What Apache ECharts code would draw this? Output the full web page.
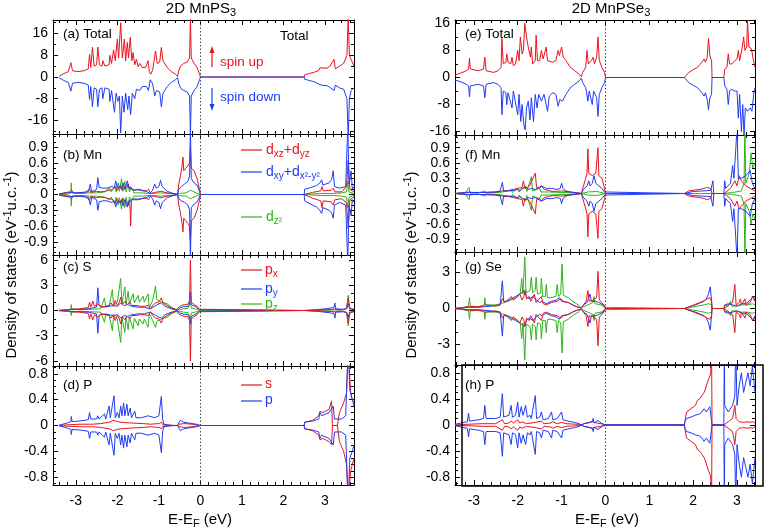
<!DOCTYPE html>
<html><head><meta charset="utf-8">
<script src="https://cdn.jsdelivr.net/npm/echarts@6/dist/echarts.min.js"></script>
<style>html,body{margin:0;padding:0;background:#fff}#c{width:767px;height:530px}</style>
</head><body><div id="c"></div>
<script>
// ---------- tick labels ----------
const xTicks = [-3,-2,-1,0,1,2,3];
const yTicksTot = [-16,-8,0,8,16];
const yTicksMn = [-0.9,-0.6,-0.3,0,0.3,0.6,0.9];
const yTicksS = [-6,-3,0,3,6];
const yTicksSe = [-3,0,3];
const yTicksP = [-0.8,-0.4,0,0.4,0.8];

// ---------- (a) MnPS3 total ----------
const totUpL = [[-3.40,0.3],[-3.30,1.2],[-3.18,2.0],[-3.12,5.3],[-3.08,2.3],[-2.95,2.0],[-2.80,2.3],[-2.70,3.0],[-2.67,8.4],[-2.64,3.5],[-2.60,11.0],[-2.56,4.0],[-2.50,4.5],[-2.47,11.0],[-2.43,4.5],[-2.37,4.0],[-2.35,6.0],[-2.30,4.0],[-2.20,4.5],[-2.18,8.0],[-2.14,5],[-2.09,10],[-2.05,6],[-2.00,14],[-1.97,7],[-1.92,20],[-1.88,7],[-1.83,14],[-1.80,6],[-1.76,12.7],[-1.73,7],[-1.69,14.6],[-1.65,6],[-1.62,9],[-1.58,4.5],[-1.54,6.5],[-1.50,3.8],[-1.46,5],[-1.40,3.5],[-1.32,3.5],[-1.26,6],[-1.23,2],[-1.20,1.0],[-1.15,2.5],[-1.08,9.6],[-1.04,5],[-0.98,5.5],[-0.94,10.9],[-0.90,6],[-0.80,3.5],[-0.70,2.0],[-0.60,1.0],[-0.55,0.2],[-0.52,2.5],[-0.47,4.2],[-0.40,5.0],[-0.32,5.5],[-0.26,7.0],[-0.24,22],[-0.22,7],[-0.15,5.0],[-0.08,3.5],[-0.02,1.0],[0,0],[2.50,0],[2.51,0.8],[2.60,1.2],[2.75,1.8],[2.85,2.4],[2.88,3.4],[2.92,2.8],[3.05,3.2],[3.12,4.0],[3.16,4.4],[3.22,6.5],[3.25,3],[3.35,4],[3.45,5],[3.53,8],[3.56,22],[3.59,8],[3.63,6.5],[3.66,7],[3.70,4]];
const totDnL = [[-3.40,-0.3],[-3.30,-1.2],[-3.18,-2.0],[-3.12,-5.2],[-3.08,-2.3],[-2.95,-2.0],[-2.80,-2.3],[-2.70,-3.0],[-2.67,-8.3],[-2.64,-3.5],[-2.60,-11],[-2.56,-4],[-2.50,-4.5],[-2.47,-11],[-2.43,-4.5],[-2.37,-4],[-2.35,-8],[-2.30,-4],[-2.20,-4.5],[-2.18,-9],[-2.14,-5],[-2.07,-13],[-2.03,-6],[-1.99,-9],[-1.95,-7],[-1.92,-20.6],[-1.88,-7],[-1.84,-13],[-1.80,-6],[-1.75,-12],[-1.72,-7],[-1.68,-13.8],[-1.64,-6],[-1.58,-8],[-1.54,-4.5],[-1.46,-5],[-1.40,-3.5],[-1.30,-3.5],[-1.25,-5],[-1.21,-1],[-1.15,-2.5],[-1.10,-7],[-1.06,-5],[-0.98,-5.5],[-0.94,-11],[-0.90,-6],[-0.80,-3.5],[-0.70,-2],[-0.60,-1],[-0.55,-0.2],[-0.52,-2.5],[-0.47,-4.2],[-0.40,-5],[-0.32,-5.5],[-0.26,-7],[-0.24,-22],[-0.22,-7],[-0.15,-5],[-0.08,-3.5],[-0.02,-1],[0,0],[2.50,0],[2.51,-0.8],[2.60,-1.2],[2.75,-1.8],[2.85,-2.6],[2.92,-3.0],[3.05,-3.2],[3.12,-3.8],[3.16,-4.2],[3.22,-5.0],[3.25,-3],[3.35,-4],[3.45,-4.5],[3.53,-8],[3.56,-22],[3.59,-8],[3.63,-5],[3.70,-4]];

// ---------- (b) MnPS3 Mn ----------
const mnRedUpL = [[-3.40,0.01],[-3.30,0.03],[-3.15,0.05],[-3.10,0.08],[-3.05,0.03],[-2.80,0.03],[-2.67,0.10],[-2.64,0.04],[-2.50,0.06],[-2.40,0.05],[-2.30,0.06],[-2.20,0.08],[-2.10,0.10],[-2.05,0.15],[-2.00,0.08],[-1.92,0.18],[-1.88,0.08],[-1.80,0.12],[-1.74,0.20],[-1.70,0.10],[-1.68,0.15],[-1.62,0.08],[-1.50,0.10],[-1.40,0.08],[-1.30,0.07],[-1.25,0.10],[-1.20,0.02],[-1.10,0.04],[-0.94,0.06],[-0.80,0.03],[-0.60,0.01],[-0.55,0],[-0.52,0.20],[-0.48,0.35],[-0.44,0.55],[-0.42,0.71],[-0.40,0.45],[-0.35,0.5],[-0.30,0.55],[-0.26,0.6],[-0.24,0.9],[-0.22,0.5],[-0.15,0.45],[-0.08,0.3],[-0.02,0.1],[0,0],[2.50,0],[2.51,0.02],[2.70,0.04],[2.90,0.07],[2.93,0.15],[2.96,0.07],[3.15,0.08],[3.20,0.12],[3.24,0.05],[3.40,0.05],[3.52,0.15],[3.56,0.65],[3.60,0.1],[3.70,0.05]];
const mnRedDnL = [[-3.40,-0.01],[-3.30,-0.03],[-3.15,-0.05],[-3.10,-0.08],[-3.05,-0.03],[-2.80,-0.03],[-2.67,-0.10],[-2.64,-0.04],[-2.50,-0.06],[-2.40,-0.05],[-2.30,-0.06],[-2.20,-0.08],[-2.10,-0.10],[-2.05,-0.15],[-2.00,-0.08],[-1.92,-0.18],[-1.88,-0.08],[-1.80,-0.12],[-1.74,-0.20],[-1.70,-0.10],[-1.68,-0.60],[-1.66,-0.10],[-1.62,-0.08],[-1.50,-0.10],[-1.40,-0.08],[-1.30,-0.07],[-1.25,-0.10],[-1.20,-0.02],[-1.10,-0.04],[-0.94,-0.06],[-0.80,-0.03],[-0.60,-0.01],[-0.55,0],[-0.52,-0.20],[-0.48,-0.35],[-0.44,-0.55],[-0.42,-0.71],[-0.40,-0.45],[-0.35,-0.5],[-0.30,-0.55],[-0.26,-0.6],[-0.24,-0.9],[-0.22,-0.5],[-0.15,-0.45],[-0.08,-0.3],[-0.02,-0.1],[0,0],[2.50,0],[2.51,-0.03],[2.70,-0.07],[2.90,-0.12],[2.93,-0.25],[2.96,-0.12],[3.15,-0.14],[3.20,-0.2],[3.24,-0.1],[3.40,-0.08],[3.52,-0.15],[3.56,-0.65],[3.60,-0.1],[3.70,-0.05]];
const mnBluUpL = [[-3.40,0.01],[-3.30,0.02],[-3.12,0.04],[-3.00,0.03],[-2.70,0.05],[-2.65,0.20],[-2.62,0.05],[-2.50,0.10],[-2.47,0.32],[-2.44,0.14],[-2.35,0.12],[-2.25,0.12],[-2.15,0.15],[-2.07,0.13],[-2.04,0.26],[-2.00,0.12],[-1.95,0.16],[-1.90,0.10],[-1.86,0.22],[-1.82,0.10],[-1.76,0.26],[-1.72,0.12],[-1.65,0.10],[-1.58,0.08],[-1.50,0.09],[-1.40,0.07],[-1.30,0.06],[-1.22,0.02],[-1.15,0.08],[-1.10,0.20],[-1.06,0.12],[-1.00,0.15],[-0.96,0.27],[-0.92,0.15],[-0.80,0.06],[-0.65,0.02],[-0.55,0],[-0.52,0.10],[-0.46,0.15],[-0.38,0.20],[-0.30,0.25],[-0.26,0.35],[-0.24,1.3],[-0.22,0.3],[-0.15,0.22],[-0.08,0.18],[-0.02,0.06],[0,0],[2.50,0],[2.51,0.10],[2.65,0.13],[2.80,0.17],[2.88,0.22],[2.92,0.28],[2.95,0.18],[3.10,0.22],[3.16,0.28],[3.20,0.45],[3.23,0.15],[3.35,0.12],[3.50,0.15],[3.55,1.3],[3.58,0.2],[3.63,0.45],[3.66,0.1],[3.70,0.15]];
const mnBluDnL = [[-3.40,-0.01],[-3.30,-0.02],[-3.12,-0.04],[-3.00,-0.03],[-2.70,-0.05],[-2.65,-0.20],[-2.62,-0.05],[-2.50,-0.10],[-2.47,-0.30],[-2.44,-0.14],[-2.35,-0.12],[-2.25,-0.12],[-2.15,-0.15],[-2.07,-0.13],[-2.04,-0.24],[-2.00,-0.12],[-1.95,-0.16],[-1.90,-0.10],[-1.86,-0.22],[-1.82,-0.10],[-1.76,-0.24],[-1.72,-0.12],[-1.65,-0.10],[-1.58,-0.08],[-1.50,-0.09],[-1.40,-0.07],[-1.30,-0.06],[-1.22,-0.02],[-1.15,-0.08],[-1.10,-0.20],[-1.06,-0.12],[-1.00,-0.15],[-0.96,-0.27],[-0.92,-0.15],[-0.80,-0.06],[-0.65,-0.02],[-0.55,0],[-0.52,-0.08],[-0.46,-0.12],[-0.38,-0.15],[-0.30,-0.2],[-0.26,-0.3],[-0.24,-1.3],[-0.22,-0.25],[-0.15,-0.18],[-0.08,-0.14],[-0.02,-0.05],[0,0],[2.50,0],[2.51,-0.12],[2.65,-0.18],[2.80,-0.24],[2.88,-0.30],[2.92,-0.36],[2.95,-0.25],[3.10,-0.3],[3.16,-0.35],[3.20,-0.45],[3.23,-0.2],[3.35,-0.15],[3.50,-0.2],[3.55,-1.3],[3.58,-0.2],[3.63,-0.4],[3.66,-0.1],[3.70,-0.15]];
const mnGrnUpL = [[-3.40,0],[-3.20,0.01],[-3.12,0.03],[-3.11,0.22],[-3.10,0.03],[-2.90,0.02],[-2.65,0.03],[-2.50,0.03],[-2.30,0.05],[-2.20,0.12],[-2.15,0.05],[-2.06,0.15],[-2.03,0.05],[-1.98,0.22],[-1.95,0.06],[-1.90,0.30],[-1.87,0.06],[-1.82,0.25],[-1.79,0.05],[-1.74,0.20],[-1.71,0.05],[-1.65,0.12],[-1.60,0.03],[-1.40,0.03],[-1.20,0.02],[-0.94,0.03],[-0.60,0.01],[-0.55,0],[-0.50,0.02],[-0.35,0.03],[-0.24,0.08],[-0.10,0.03],[0,0],[2.50,0],[2.51,0.01],[2.90,0.02],[3.20,0.02],[3.40,0.03],[3.52,0.05],[3.55,0.25],[3.58,0.05],[3.70,0.02]];
const mnGrnDnL = [[-3.40,0],[-3.20,-0.01],[-3.12,-0.03],[-3.11,-0.22],[-3.10,-0.03],[-2.90,-0.02],[-2.65,-0.03],[-2.50,-0.03],[-2.30,-0.05],[-2.20,-0.1],[-2.15,-0.05],[-2.06,-0.18],[-2.03,-0.05],[-1.98,-0.2],[-1.95,-0.06],[-1.90,-0.28],[-1.87,-0.06],[-1.82,-0.25],[-1.79,-0.05],[-1.74,-0.22],[-1.71,-0.05],[-1.65,-0.1],[-1.60,-0.03],[-1.40,-0.03],[-1.20,-0.02],[-0.94,-0.03],[-0.60,-0.01],[-0.55,0],[-0.50,-0.02],[-0.35,-0.03],[-0.24,-0.08],[-0.10,-0.03],[0,0],[2.50,0],[2.51,-0.01],[2.90,-0.02],[3.20,-0.02],[3.40,-0.03],[3.52,-0.05],[3.55,-0.25],[3.58,-0.05],[3.70,-0.02]];

// ---------- (c) MnPS3 S ----------
const sRedUpL = [[-3.40,0.02],[-3.20,0.1],[-3.12,0.15],[-3.11,0.3],[-3.10,0.15],[-2.90,0.2],[-2.70,0.35],[-2.67,1.0],[-2.64,0.4],[-2.59,1.1],[-2.55,0.5],[-2.47,0.8],[-2.40,0.4],[-2.30,0.5],[-2.20,0.6],[-2.15,0.9],[-2.10,0.5],[-2.05,1.2],[-2.00,0.6],[-1.95,1.0],[-1.92,1.6],[-1.88,0.7],[-1.82,1.1],[-1.76,0.7],[-1.70,1.0],[-1.65,0.6],[-1.55,0.6],[-1.45,0.5],[-1.35,0.5],[-1.25,0.6],[-1.20,0.15],[-1.15,0.6],[-1.08,0.9],[-1.00,1.0],[-0.94,1.5],[-0.90,0.9],[-0.80,0.6],[-0.70,0.3],[-0.58,0.1],[-0.55,0],[-0.52,0.4],[-0.46,0.6],[-0.38,0.7],[-0.30,0.75],[-0.26,1.2],[-0.24,6.0],[-0.22,1.0],[-0.15,0.7],[-0.08,0.5],[-0.02,0.15],[0,0],[2.50,0],[2.51,0.02],[2.80,0.05],[3.00,0.08],[3.15,0.12],[3.24,0.2],[3.30,0.08],[3.45,0.1],[3.52,0.3],[3.56,1.5],[3.60,0.3],[3.70,0.1]];
const sRedDnL = [[-3.40,-0.02],[-3.20,-0.1],[-3.12,-0.15],[-3.11,-0.3],[-3.10,-0.15],[-2.90,-0.2],[-2.70,-0.35],[-2.67,-1.0],[-2.64,-0.4],[-2.59,-1.1],[-2.55,-0.5],[-2.47,-0.8],[-2.40,-0.4],[-2.30,-0.5],[-2.20,-0.6],[-2.15,-0.9],[-2.10,-0.5],[-2.05,-1.2],[-2.00,-0.6],[-1.95,-1.0],[-1.92,-1.6],[-1.88,-0.7],[-1.82,-1.1],[-1.76,-0.7],[-1.70,-1.0],[-1.65,-0.6],[-1.55,-0.6],[-1.45,-0.5],[-1.35,-0.5],[-1.25,-0.6],[-1.20,-0.15],[-1.15,-0.6],[-1.08,-0.9],[-1.00,-1.0],[-0.94,-1.5],[-0.90,-0.9],[-0.80,-0.6],[-0.70,-0.3],[-0.58,-0.1],[-0.55,0],[-0.52,-0.4],[-0.46,-0.6],[-0.38,-0.7],[-0.30,-0.75],[-0.26,-1.2],[-0.24,-6.0],[-0.22,-1.0],[-0.15,-0.7],[-0.08,-0.5],[-0.02,-0.15],[0,0],[2.50,0],[2.51,-0.02],[2.80,-0.05],[3.00,-0.08],[3.15,-0.12],[3.24,-0.2],[3.30,-0.08],[3.45,-0.1],[3.52,-0.3],[3.56,-1.5],[3.60,-0.3],[3.70,-0.1]];
const sBluUpL = [[-3.40,0.01],[-3.20,0.06],[-3.12,0.1],[-3.00,0.12],[-2.70,0.2],[-2.60,0.3],[-2.50,0.4],[-2.47,2.7],[-2.44,0.6],[-2.35,0.4],[-2.20,0.5],[-2.10,0.6],[-2.00,0.5],[-1.92,0.9],[-1.85,0.6],[-1.75,0.7],[-1.65,0.5],[-1.50,0.4],[-1.35,0.4],[-1.22,0.2],[-1.10,0.5],[-1.00,0.8],[-0.94,0.9],[-0.85,0.5],[-0.70,0.2],[-0.55,0],[-0.50,0.3],[-0.40,0.45],[-0.30,0.5],[-0.26,0.8],[-0.24,2.2],[-0.22,0.7],[-0.12,0.45],[-0.02,0.1],[0,0],[2.50,0],[2.51,0.02],[2.80,0.1],[3.00,0.2],[3.15,0.3],[3.22,0.4],[3.24,0.9],[3.26,0.2],[3.45,0.15],[3.53,0.3],[3.56,0.8],[3.60,0.2],[3.70,0.15]];
const sBluDnL = [[-3.40,-0.01],[-3.20,-0.06],[-3.12,-0.1],[-3.00,-0.12],[-2.70,-0.2],[-2.60,-0.3],[-2.50,-0.4],[-2.47,-2.7],[-2.44,-0.6],[-2.35,-0.4],[-2.20,-0.5],[-2.10,-0.6],[-2.00,-0.5],[-1.92,-0.9],[-1.85,-0.6],[-1.75,-0.7],[-1.65,-0.5],[-1.50,-0.4],[-1.35,-0.4],[-1.22,-0.2],[-1.10,-0.5],[-1.00,-0.8],[-0.94,-0.9],[-0.85,-0.5],[-0.70,-0.2],[-0.55,0],[-0.50,-0.3],[-0.40,-0.45],[-0.30,-0.5],[-0.26,-0.8],[-0.24,-1.6],[-0.22,-0.7],[-0.12,-0.45],[-0.02,-0.1],[0,0],[2.50,0],[2.51,-0.02],[2.80,-0.1],[3.00,-0.2],[3.15,-0.3],[3.22,-0.4],[3.24,-0.9],[3.26,-0.2],[3.45,-0.15],[3.53,-0.3],[3.56,-0.8],[3.60,-0.2],[3.70,-0.15]];
const sGrnUpL = [[-3.40,0.01],[-3.20,0.05],[-3.12,0.2],[-3.11,0.7],[-3.10,0.2],[-2.90,0.1],[-2.60,0.15],[-2.40,0.2],[-2.31,1.5],[-2.28,0.4],[-2.20,0.5],[-2.12,2.5],[-2.09,0.6],[-2.00,1.0],[-1.92,3.8],[-1.89,0.8],[-1.82,2.8],[-1.79,0.8],[-1.74,2.3],[-1.71,0.8],[-1.62,2.0],[-1.59,0.9],[-1.50,1.8],[-1.47,1.0],[-1.38,1.7],[-1.35,1.0],[-1.26,2.0],[-1.23,0.3],[-1.15,1.2],[-1.08,2.9],[-1.05,1.3],[-0.94,1.0],[-0.80,0.8],[-0.70,0.4],[-0.58,0.1],[-0.55,0],[-0.50,0.1],[-0.40,0.2],[-0.30,0.25],[-0.26,0.4],[-0.24,1.0],[-0.22,0.3],[-0.10,0.15],[0,0],[2.50,0],[2.51,0.01],[3.00,0.05],[3.24,0.1],[3.40,0.1],[3.53,0.2],[3.56,1.8],[3.59,0.2],[3.70,0.1]];
const sGrnDnL = [[-3.40,-0.01],[-3.20,-0.05],[-3.12,-0.2],[-3.11,-0.6],[-3.10,-0.2],[-2.90,-0.1],[-2.60,-0.15],[-2.40,-0.2],[-2.31,-1.4],[-2.28,-0.4],[-2.20,-0.5],[-2.12,-2.4],[-2.09,-0.6],[-2.00,-1.0],[-1.92,-3.8],[-1.89,-0.8],[-1.82,-2.6],[-1.79,-0.8],[-1.74,-2.3],[-1.71,-0.8],[-1.62,-2.2],[-1.59,-0.9],[-1.50,-1.8],[-1.47,-1.0],[-1.38,-1.6],[-1.35,-1.0],[-1.26,-2.0],[-1.23,-0.3],[-1.15,-1.2],[-1.08,-2.0],[-1.05,-1.3],[-0.94,-1.0],[-0.80,-0.8],[-0.70,-0.4],[-0.58,-0.1],[-0.55,0],[-0.50,-0.1],[-0.40,-0.2],[-0.30,-0.25],[-0.26,-0.4],[-0.24,-1.0],[-0.22,-0.3],[-0.10,-0.15],[0,0],[2.50,0],[2.51,-0.01],[3.00,-0.05],[3.24,-0.1],[3.40,-0.1],[3.53,-0.2],[3.56,-1.8],[3.59,-0.2],[3.70,-0.1]];

// ---------- (d) MnPS3 P ----------
const pRedUpL = [[-3.40,0],[-3.20,0.01],[-2.90,0.02],[-2.60,0.02],[-2.40,0.03],[-2.20,0.05],[-2.10,0.08],[-2.00,0.06],[-1.90,0.05],[-1.70,0.04],[-1.40,0.03],[-1.20,0.02],[-1.00,0.03],[-0.94,0.05],[-0.90,0.01],[-0.55,0],[-0.50,0.02],[-0.40,0.03],[-0.20,0.02],[0,0],[2.50,0],[2.51,0.05],[2.70,0.08],[2.85,0.15],[2.88,0.22],[2.95,0.2],[3.10,0.25],[3.16,0.38],[3.18,0.0],[3.30,0.0],[3.35,0.2],[3.45,0.35],[3.52,0.5],[3.56,1.2],[3.62,0.5],[3.70,0.3]];
const pRedDnL = [[-3.40,0],[-3.20,-0.01],[-2.90,-0.02],[-2.60,-0.02],[-2.40,-0.03],[-2.20,-0.05],[-2.10,-0.08],[-2.00,-0.06],[-1.90,-0.05],[-1.70,-0.04],[-1.40,-0.03],[-1.20,-0.02],[-1.00,-0.03],[-0.94,-0.05],[-0.90,-0.01],[-0.55,0],[-0.50,-0.02],[-0.40,-0.03],[-0.20,-0.02],[0,0],[2.50,0],[2.51,-0.05],[2.70,-0.08],[2.85,-0.15],[2.88,-0.22],[2.95,-0.2],[3.10,-0.25],[3.16,-0.3],[3.18,0],[3.30,0],[3.35,-0.25],[3.45,-0.4],[3.52,-0.6],[3.56,-1.2],[3.62,-0.7],[3.70,-0.5]];
const pBluUpL = [[-3.40,0.005],[-3.20,0.04],[-3.12,0.06],[-3.11,0.14],[-3.09,0.06],[-2.90,0.07],[-2.70,0.09],[-2.67,0.2],[-2.64,0.1],[-2.50,0.1],[-2.47,0.15],[-2.44,0.1],[-2.31,0.18],[-2.28,0.1],[-2.20,0.3],[-2.17,0.12],[-2.08,0.46],[-2.05,0.12],[-2.00,0.2],[-1.96,0.12],[-1.92,0.3],[-1.89,0.15],[-1.85,0.35],[-1.82,0.15],[-1.77,0.33],[-1.74,0.15],[-1.69,0.27],[-1.66,0.12],[-1.58,0.22],[-1.55,0.12],[-1.42,0.12],[-1.26,0.15],[-1.10,0.12],[-1.00,0.15],[-0.94,0.45],[-0.91,0.1],[-0.88,0.02],[-0.70,0],[-0.55,0],[-0.52,0.04],[-0.48,0.08],[-0.40,0.05],[-0.30,0.04],[-0.10,0.02],[0,0],[2.50,0],[2.51,0.05],[2.70,0.07],[2.85,0.1],[2.88,0.2],[2.92,0.15],[3.10,0.2],[3.20,0.3],[3.23,0.1],[3.40,0.1],[3.50,0.15],[3.56,1.2],[3.60,0.55],[3.66,0.4],[3.70,0.35]];
const pBluDnL = [[-3.40,-0.005],[-3.20,-0.04],[-3.12,-0.06],[-3.11,-0.14],[-3.09,-0.06],[-2.90,-0.07],[-2.70,-0.09],[-2.67,-0.2],[-2.64,-0.1],[-2.50,-0.1],[-2.47,-0.15],[-2.44,-0.1],[-2.31,-0.18],[-2.28,-0.1],[-2.20,-0.3],[-2.17,-0.12],[-2.08,-0.46],[-2.05,-0.12],[-2.00,-0.2],[-1.96,-0.12],[-1.92,-0.3],[-1.89,-0.15],[-1.85,-0.35],[-1.82,-0.15],[-1.77,-0.33],[-1.74,-0.15],[-1.69,-0.27],[-1.66,-0.12],[-1.58,-0.22],[-1.55,-0.12],[-1.42,-0.12],[-1.26,-0.15],[-1.10,-0.12],[-1.00,-0.15],[-0.94,-0.42],[-0.91,-0.1],[-0.88,-0.02],[-0.70,0],[-0.55,0],[-0.52,-0.04],[-0.48,-0.08],[-0.40,-0.05],[-0.30,-0.04],[-0.10,-0.02],[0,0],[2.50,0],[2.51,-0.05],[2.70,-0.07],[2.85,-0.1],[2.88,-0.2],[2.92,-0.15],[3.10,-0.2],[3.20,-0.3],[3.23,-0.1],[3.40,-0.1],[3.50,-0.15],[3.56,-1.2],[3.60,-0.5],[3.66,-0.4],[3.70,-0.3]];

// ---------- (e) MnPSe3 total ----------
const totUpR = [[-3.43,0.8],[-3.36,1.0],[-3.20,1.8],[-3.12,2.5],[-3.10,5.7],[-3.08,2.5],[-2.90,2],[-2.78,2.5],[-2.75,6.0],[-2.72,2],[-2.55,1.5],[-2.45,2],[-2.38,3],[-2.36,11.5],[-2.33,4],[-2.27,4.5],[-2.25,7],[-2.22,4.5],[-2.16,4],[-2.13,6],[-2.10,3.5],[-2.05,4],[-2.00,8],[-1.97,5],[-1.94,12],[-1.90,7],[-1.87,8],[-1.84,16],[-1.80,12],[-1.76,9],[-1.71,6],[-1.69,9],[-1.66,4],[-1.60,5],[-1.58,12.5],[-1.55,5],[-1.50,5],[-1.46,8],[-1.42,5.5],[-1.35,9],[-1.32,5],[-1.20,4.5],[-1.13,5],[-1.08,8],[-1.05,6.5],[-1.00,9],[-0.96,6],[-0.90,5],[-0.80,3],[-0.70,2],[-0.60,1],[-0.55,0.2],[-0.52,1.5],[-0.45,3],[-0.42,8],[-0.39,4],[-0.32,5],[-0.28,6],[-0.25,4],[-0.20,6],[-0.17,12],[-0.14,5],[-0.08,3],[-0.02,1.5],[0,0],[1.80,0],[1.81,0.5],[1.90,1.5],[2.00,2.3],[2.10,3],[2.15,3.8],[2.20,4.5],[2.25,5.5],[2.28,4.5],[2.32,6],[2.35,11.5],[2.38,6.5],[2.42,5],[2.43,0],[2.70,0],[2.72,2.5],[2.77,3],[2.80,7],[2.83,4],[2.88,4],[2.95,5],[3.00,5.5],[3.03,8],[3.06,5],[3.12,9],[3.15,12],[3.18,8],[3.22,9],[3.24,17],[3.27,9],[3.33,8.5],[3.36,6],[3.41,3]];
const totDnR = [[-3.43,-0.8],[-3.36,-1.0],[-3.20,-1.8],[-3.12,-2.5],[-3.10,-5.7],[-3.08,-2.5],[-2.90,-2],[-2.78,-2.5],[-2.75,-6.0],[-2.72,-2],[-2.55,-1.5],[-2.45,-2],[-2.38,-3],[-2.36,-11],[-2.33,-4],[-2.27,-4.5],[-2.25,-8],[-2.22,-4.5],[-2.13,-9],[-2.10,-4],[-2.00,-11],[-1.97,-5],[-1.93,-13],[-1.90,-8],[-1.86,-14],[-1.83,-15.5],[-1.80,-9],[-1.76,-7],[-1.72,-12.5],[-1.69,-6],[-1.64,-13],[-1.60,-5],[-1.56,-9],[-1.52,-5],[-1.46,-7],[-1.40,-5],[-1.32,-10],[-1.28,-5.5],[-1.20,-4.5],[-1.13,-5],[-1.08,-8.5],[-1.04,-6.5],[-0.98,-7],[-0.90,-5],[-0.80,-3],[-0.70,-2],[-0.60,-1],[-0.55,-0.2],[-0.52,-1.5],[-0.45,-3],[-0.40,-7],[-0.37,-4],[-0.30,-8],[-0.27,-4],[-0.20,-6],[-0.17,-11.5],[-0.14,-5],[-0.08,-3],[-0.02,-1.5],[0,0],[1.80,0],[1.81,-0.5],[1.90,-1.5],[2.00,-2.3],[2.10,-3],[2.15,-3.8],[2.20,-4.5],[2.25,-5.5],[2.28,-4.5],[2.32,-6.5],[2.35,-9.5],[2.38,-6],[2.42,-5],[2.43,0],[2.70,0],[2.72,-2.5],[2.77,-3.5],[2.80,-8],[2.83,-4],[2.88,-3.5],[2.95,-4],[3.00,-4],[3.03,-12],[3.06,-5],[3.10,-16],[3.13,-8],[3.16,-17],[3.19,-9],[3.24,-10],[3.30,-9],[3.34,-10],[3.38,-5],[3.41,-3]];

// ---------- (f) MnPSe3 Mn ----------
const mnRedUpR = [[-3.43,0],[-3.30,0.01],[-3.12,0.03],[-3.00,0.02],[-2.80,0.02],[-2.50,0.03],[-2.34,0.05],[-2.20,0.06],[-2.10,0.08],[-2.00,0.10],[-1.90,0.12],[-1.87,0.25],[-1.84,0.1],[-1.78,0.12],[-1.73,0.15],[-1.69,0.12],[-1.60,0.40],[-1.57,0.12],[-1.50,0.1],[-1.46,0.15],[-1.40,0.08],[-1.30,0.06],[-1.20,0.04],[-1.00,0.05],[-0.90,0.04],[-0.70,0.02],[-0.55,0],[-0.50,0.15],[-0.45,0.3],[-0.42,0.4],[-0.40,0.88],[-0.38,0.4],[-0.30,0.35],[-0.22,0.4],[-0.17,0.90],[-0.15,0.35],[-0.08,0.3],[-0.02,0.1],[0,0],[1.80,0],[1.81,0.02],[1.90,0.05],[2.05,0.07],[2.15,0.08],[2.25,0.1],[2.30,0.12],[2.40,0.1],[2.43,0],[2.70,0],[2.75,0.03],[2.85,0.1],[2.95,0.25],[3.00,0.15],[3.05,0.35],[3.10,0.25],[3.20,0.15],[3.30,0.1],[3.41,0.05]];
const mnRedDnR = [[-3.43,0],[-3.30,-0.01],[-3.12,-0.03],[-3.00,-0.02],[-2.80,-0.02],[-2.50,-0.03],[-2.34,-0.05],[-2.20,-0.06],[-2.10,-0.08],[-2.00,-0.10],[-1.90,-0.12],[-1.87,-0.25],[-1.84,-0.1],[-1.78,-0.12],[-1.73,-0.15],[-1.69,-0.12],[-1.60,-0.40],[-1.57,-0.12],[-1.50,-0.1],[-1.46,-0.15],[-1.40,-0.08],[-1.30,-0.06],[-1.20,-0.04],[-1.00,-0.05],[-0.90,-0.04],[-0.70,-0.02],[-0.55,0],[-0.50,-0.15],[-0.45,-0.3],[-0.42,-0.4],[-0.40,-0.85],[-0.38,-0.4],[-0.30,-0.35],[-0.22,-0.4],[-0.17,-0.88],[-0.15,-0.35],[-0.08,-0.3],[-0.02,-0.1],[0,0],[1.80,0],[1.81,-0.02],[1.90,-0.05],[2.05,-0.07],[2.15,-0.08],[2.25,-0.1],[2.30,-0.12],[2.40,-0.1],[2.43,0],[2.70,0],[2.75,-0.03],[2.85,-0.1],[2.95,-0.25],[3.00,-0.15],[3.05,-0.3],[3.10,-0.25],[3.20,-0.15],[3.30,-0.1],[3.41,-0.05]];
const mnBluUpR = [[-3.43,0],[-3.30,0.01],[-3.10,0.02],[-2.75,0.02],[-2.50,0.03],[-2.40,0.05],[-2.35,0.22],[-2.32,0.05],[-2.20,0.05],[-2.10,0.06],[-2.00,0.08],[-1.95,0.06],[-1.90,0.10],[-1.80,0.12],[-1.75,0.08],[-1.69,0.1],[-1.60,0.08],[-1.46,0.15],[-1.35,0.1],[-1.23,0.1],[-1.10,0.08],[-1.03,0.1],[-1.00,0.20],[-0.97,0.1],[-0.90,0.05],[-0.75,0.02],[-0.55,0],[-0.50,0.08],[-0.42,0.15],[-0.38,0.25],[-0.35,0.15],[-0.30,0.2],[-0.26,0.35],[-0.22,0.2],[-0.15,0.15],[-0.08,0.1],[-0.02,0.03],[0,0],[1.80,0],[1.81,0.02],[2.00,0.04],[2.20,0.05],[2.40,0.06],[2.45,0.25],[2.47,0.0],[2.70,0],[2.72,0.25],[2.74,0.1],[2.85,0.2],[2.90,0.55],[2.93,0.3],[2.97,0.85],[3.00,1.3],[3.03,0.3],[3.10,0.3],[3.20,0.35],[3.30,0.45],[3.35,0.2],[3.41,0.1]];
const mnBluDnR = [[-3.43,0],[-3.30,-0.01],[-3.10,-0.02],[-2.75,-0.02],[-2.50,-0.03],[-2.40,-0.05],[-2.35,-0.22],[-2.32,-0.05],[-2.20,-0.05],[-2.10,-0.06],[-2.00,-0.08],[-1.95,-0.06],[-1.90,-0.10],[-1.80,-0.12],[-1.75,-0.08],[-1.69,-0.1],[-1.60,-0.08],[-1.46,-0.15],[-1.35,-0.1],[-1.23,-0.1],[-1.10,-0.08],[-1.03,-0.1],[-1.00,-0.20],[-0.97,-0.1],[-0.90,-0.05],[-0.75,-0.02],[-0.55,0],[-0.50,-0.08],[-0.42,-0.15],[-0.38,-0.25],[-0.35,-0.15],[-0.30,-0.2],[-0.26,-0.35],[-0.22,-0.2],[-0.15,-0.15],[-0.08,-0.1],[-0.02,-0.03],[0,0],[1.80,0],[1.81,-0.02],[2.00,-0.04],[2.20,-0.05],[2.40,-0.06],[2.45,-0.25],[2.47,0.0],[2.70,0],[2.72,-0.25],[2.74,-0.1],[2.85,-0.2],[2.90,-0.55],[2.93,-0.3],[2.97,-0.85],[3.00,-1.3],[3.03,-0.3],[3.10,-0.3],[3.20,-0.35],[3.30,-0.45],[3.35,-0.2],[3.41,-0.1]];
const mnGrnUpR = [[-3.43,0],[-3.20,0.01],[-3.11,0.12],[-3.09,0.01],[-2.90,0.01],[-2.75,0.05],[-2.73,0.01],[-2.40,0.02],[-2.15,0.07],[-2.12,0.02],[-2.00,0.1],[-1.97,0.03],[-1.82,0.15],[-1.79,0.04],[-1.69,0.33],[-1.66,0.05],[-1.50,0.1],[-1.47,0.03],[-1.30,0.03],[-1.00,0.02],[-0.60,0.01],[-0.55,0],[-0.40,0.03],[-0.20,0.04],[0,0],[1.80,0],[2.43,0],[2.70,0],[2.90,0.02],[3.10,0.05],[3.16,0.2],[3.18,1.3],[3.20,0.2],[3.28,0.4],[3.32,0.8],[3.36,0.5],[3.41,0.6]];
const mnGrnDnR = [[-3.43,0],[-3.20,-0.01],[-3.11,-0.12],[-3.09,-0.01],[-2.90,-0.01],[-2.75,-0.05],[-2.73,-0.01],[-2.40,-0.02],[-2.15,-0.07],[-2.12,-0.02],[-2.00,-0.1],[-1.97,-0.03],[-1.82,-0.15],[-1.79,-0.04],[-1.69,-0.33],[-1.66,-0.05],[-1.50,-0.1],[-1.47,-0.03],[-1.30,-0.03],[-1.00,-0.02],[-0.60,-0.01],[-0.55,0],[-0.40,-0.03],[-0.20,-0.04],[0,0],[1.80,0],[2.43,0],[2.70,0],[2.90,-0.02],[3.10,-0.05],[3.16,-0.2],[3.18,-1.3],[3.20,-0.2],[3.28,-0.35],[3.32,-0.6],[3.36,-0.4],[3.41,-0.5]];

// ---------- (g) MnPSe3 Se ----------
const seRedUpR = [[-3.43,0.01],[-3.30,0.05],[-3.12,0.15],[-3.00,0.15],[-2.80,0.15],[-2.75,0.3],[-2.72,0.15],[-2.50,0.2],[-2.40,0.3],[-2.35,0.8],[-2.30,0.5],[-2.20,0.8],[-2.15,1.0],[-2.10,0.7],[-2.00,1.0],[-1.95,1.2],[-1.90,0.7],[-1.86,1.0],[-1.83,1.5],[-1.80,0.8],[-1.74,1.0],[-1.70,0.6],[-1.62,1.2],[-1.58,0.5],[-1.46,1.0],[-1.42,0.4],[-1.35,0.3],[-1.23,0.5],[-1.10,0.6],[-1.02,0.8],[-0.96,0.6],[-0.85,0.5],[-0.75,0.3],[-0.62,0.1],[-0.55,0.05],[-0.50,0.3],[-0.44,0.6],[-0.40,1.5],[-0.37,0.6],[-0.28,0.7],[-0.20,0.9],[-0.17,3.1],[-0.14,0.7],[-0.08,0.5],[-0.02,0.2],[0,0],[1.80,0],[1.81,0.05],[1.95,0.2],[2.05,0.35],[2.15,0.5],[2.25,0.65],[2.32,0.8],[2.38,0.9],[2.42,0.6],[2.43,0],[2.70,0],[2.72,0.2],[2.80,0.3],[2.90,0.5],[2.95,2.0],[2.98,0.3],[3.05,0.5],[3.08,0.8],[3.10,0.3],[3.18,0.8],[3.20,0.3],[3.30,0.5],[3.35,1.0],[3.41,0.6]];
const seRedDnR = [[-3.43,-0.01],[-3.30,-0.05],[-3.12,-0.15],[-3.00,-0.15],[-2.80,-0.15],[-2.75,-0.3],[-2.72,-0.15],[-2.50,-0.2],[-2.40,-0.3],[-2.35,-0.8],[-2.30,-0.5],[-2.20,-0.8],[-2.15,-1.0],[-2.10,-0.7],[-2.00,-1.0],[-1.95,-1.2],[-1.90,-0.7],[-1.86,-1.0],[-1.83,-1.5],[-1.80,-0.8],[-1.74,-1.0],[-1.70,-0.6],[-1.62,-1.2],[-1.58,-0.5],[-1.46,-1.0],[-1.42,-0.4],[-1.35,-0.3],[-1.23,-0.5],[-1.10,-0.6],[-1.02,-0.8],[-0.96,-0.6],[-0.85,-0.5],[-0.75,-0.3],[-0.62,-0.1],[-0.55,-0.05],[-0.50,-0.3],[-0.44,-0.6],[-0.40,-1.5],[-0.37,-0.6],[-0.28,-0.7],[-0.20,-0.9],[-0.17,-3.1],[-0.14,-0.7],[-0.08,-0.5],[-0.02,-0.2],[0,0],[1.80,0],[1.81,-0.05],[1.95,-0.2],[2.05,-0.35],[2.15,-0.5],[2.25,-0.65],[2.32,-0.8],[2.38,-0.9],[2.42,-0.6],[2.43,0],[2.70,0],[2.72,-0.2],[2.80,-0.3],[2.90,-0.5],[2.95,-2.0],[2.98,-0.3],[3.05,-0.5],[3.08,-0.8],[3.10,-0.3],[3.18,-0.8],[3.20,-0.3],[3.30,-0.5],[3.35,-1.0],[3.41,-0.6]];
const seBluUpR = [[-3.43,0.01],[-3.30,0.03],[-3.12,0.1],[-2.90,0.1],[-2.75,0.15],[-2.60,0.2],[-2.40,0.3],[-2.35,2.3],[-2.32,0.6],[-2.25,0.6],[-2.15,0.8],[-2.05,1.0],[-1.95,1.2],[-1.85,1.5],[-1.80,1.0],[-1.74,0.8],[-1.65,1.0],[-1.58,0.7],[-1.50,0.5],[-1.45,0.6],[-1.35,0.4],[-1.23,0.6],[-1.12,0.7],[-1.05,0.9],[-1.00,0.6],[-0.85,0.5],[-0.70,0.2],[-0.55,0.05],[-0.50,0.3],[-0.42,0.5],[-0.35,1.2],[-0.32,0.6],[-0.22,0.6],[-0.15,0.5],[-0.05,0.3],[0,0],[1.80,0],[1.81,0.05],[1.95,0.2],[2.05,0.3],[2.15,0.45],[2.25,0.6],[2.30,0.8],[2.35,1.2],[2.39,1.8],[2.42,0.6],[2.43,0],[2.70,0],[2.72,0.3],[2.80,0.4],[2.90,0.3],[3.00,0.2],[3.10,0.4],[3.20,0.4],[3.30,0.7],[3.38,1.0],[3.41,0.6]];
const seBluDnR = [[-3.43,-0.01],[-3.30,-0.03],[-3.12,-0.1],[-2.90,-0.1],[-2.75,-0.15],[-2.60,-0.2],[-2.40,-0.3],[-2.35,-2.3],[-2.32,-0.6],[-2.25,-0.6],[-2.15,-0.8],[-2.05,-1.0],[-1.95,-1.2],[-1.85,-1.5],[-1.80,-1.0],[-1.74,-0.8],[-1.65,-1.0],[-1.58,-0.7],[-1.50,-0.5],[-1.45,-0.6],[-1.35,-0.4],[-1.23,-0.6],[-1.12,-0.7],[-1.05,-0.9],[-1.00,-0.6],[-0.85,-0.5],[-0.70,-0.2],[-0.55,-0.05],[-0.50,-0.3],[-0.42,-0.5],[-0.35,-1.2],[-0.32,-0.6],[-0.22,-0.6],[-0.15,-0.5],[-0.05,-0.3],[0,0],[1.80,0],[1.81,-0.05],[1.95,-0.2],[2.05,-0.3],[2.15,-0.45],[2.25,-0.6],[2.30,-0.8],[2.35,-1.2],[2.39,-1.8],[2.42,-0.6],[2.43,0],[2.70,0],[2.72,-0.3],[2.80,-0.4],[2.90,-0.3],[3.00,-0.2],[3.10,-0.4],[3.20,-0.4],[3.30,-0.7],[3.38,-1.0],[3.41,-0.6]];
const seGrnUpR = [[-3.43,0.02],[-3.30,0.05],[-3.12,0.2],[-3.10,0.9],[-3.08,0.2],[-2.90,0.15],[-2.76,0.3],[-2.75,0.9],[-2.73,0.3],[-2.50,0.3],[-2.40,0.4],[-2.30,0.5],[-2.22,0.6],[-2.16,0.7],[-2.10,0.8],[-2.00,1.0],[-1.94,1.3],[-1.91,2.5],[-1.88,1.2],[-1.84,4.3],[-1.81,1.3],[-1.72,1.5],[-1.69,2.6],[-1.66,1.3],[-1.60,1.5],[-1.58,2.6],[-1.55,1.2],[-1.48,1.3],[-1.46,2.5],[-1.43,1.0],[-1.37,1.0],[-1.35,2.0],[-1.32,0.9],[-1.25,0.9],[-1.13,1.0],[-1.10,2.0],[-1.07,1.0],[-1.02,1.2],[-0.99,3.7],[-0.96,1.1],[-0.85,0.9],[-0.75,0.6],[-0.62,0.3],[-0.55,0.05],[-0.50,0.15],[-0.40,0.3],[-0.28,0.5],[-0.26,1.0],[-0.24,0.4],[-0.10,0.3],[-0.02,0.1],[0,0],[1.80,0],[1.81,0.02],[1.95,0.1],[2.10,0.2],[2.25,0.3],[2.35,0.4],[2.42,0.3],[2.43,0],[2.70,0],[2.72,0.1],[2.80,0.2],[2.85,0.6],[2.88,0.2],[3.00,0.2],[3.10,0.3],[3.25,0.3],[3.35,0.4],[3.41,0.3]];
const seGrnDnR = [[-3.43,-0.02],[-3.30,-0.05],[-3.12,-0.2],[-3.10,-0.9],[-3.08,-0.2],[-2.90,-0.15],[-2.76,-0.3],[-2.75,-0.9],[-2.73,-0.3],[-2.50,-0.3],[-2.40,-0.4],[-2.30,-0.5],[-2.22,-0.6],[-2.16,-0.7],[-2.10,-0.8],[-2.00,-1.0],[-1.94,-1.3],[-1.91,-2.5],[-1.88,-1.2],[-1.84,-4.3],[-1.81,-1.3],[-1.72,-1.5],[-1.69,-2.6],[-1.66,-1.3],[-1.60,-1.5],[-1.58,-2.6],[-1.55,-1.2],[-1.48,-1.3],[-1.46,-2.5],[-1.43,-1.0],[-1.37,-1.0],[-1.35,-2.0],[-1.32,-0.9],[-1.25,-0.9],[-1.13,-1.0],[-1.10,-2.0],[-1.07,-1.0],[-1.02,-1.2],[-0.99,-3.7],[-0.96,-1.1],[-0.85,-0.9],[-0.75,-0.6],[-0.62,-0.3],[-0.55,-0.05],[-0.50,-0.15],[-0.40,-0.3],[-0.28,-0.5],[-0.26,-1.0],[-0.24,-0.4],[-0.10,-0.3],[-0.02,-0.1],[0,0],[1.80,0],[1.81,-0.02],[1.95,-0.1],[2.10,-0.2],[2.25,-0.3],[2.35,-0.4],[2.42,-0.3],[2.43,0],[2.70,0],[2.72,-0.1],[2.80,-0.2],[2.85,-0.6],[2.88,-0.2],[3.00,-0.2],[3.10,-0.3],[3.25,-0.3],[3.35,-0.4],[3.41,-0.3]];

// ---------- (h) MnPSe3 P ----------
const pRedUpR = [[-3.43,0],[-3.20,0.01],[-2.80,0.02],[-2.50,0.02],[-2.35,0.08],[-2.30,0.02],[-2.20,0.03],[-2.15,0.06],[-2.10,0.03],[-2.00,0.08],[-1.95,0.03],[-1.90,0.05],[-1.80,0.02],[-1.60,0.04],[-1.46,0.06],[-1.40,0.02],[-1.25,0.03],[-1.20,0.05],[-1.10,0.02],[-1.00,0.04],[-0.90,0.02],[-0.60,0.01],[-0.55,0],[-0.50,0.02],[-0.40,0.03],[-0.30,0.05],[-0.20,0.03],[-0.10,0.02],[0,0],[1.80,0],[1.81,0.05],[1.85,0.2],[1.95,0.25],[2.05,0.3],[2.10,0.38],[2.15,0.4],[2.20,0.45],[2.25,0.5],[2.28,0.55],[2.30,0.6],[2.35,0.7],[2.38,0.75],[2.40,0.8],[2.42,1.2],[2.43,0],[2.70,0],[2.72,0.03],[2.80,0.05],[2.90,0.1],[2.95,0.3],[2.98,0.1],[3.05,0.05],[3.15,0.04],[3.25,0.05],[3.30,0.04],[3.35,0.05],[3.41,0.03]];
const pRedDnR = [[-3.43,0],[-3.20,-0.01],[-2.80,-0.02],[-2.50,-0.02],[-2.35,-0.08],[-2.30,-0.02],[-2.20,-0.03],[-2.15,-0.06],[-2.10,-0.03],[-2.00,-0.08],[-1.95,-0.03],[-1.90,-0.05],[-1.80,-0.02],[-1.60,-0.04],[-1.46,-0.06],[-1.40,-0.02],[-1.25,-0.03],[-1.20,-0.05],[-1.10,-0.02],[-1.00,-0.04],[-0.90,-0.02],[-0.60,-0.01],[-0.55,0],[-0.50,-0.02],[-0.40,-0.03],[-0.30,-0.05],[-0.20,-0.03],[-0.10,-0.02],[0,0],[1.80,0],[1.81,-0.05],[1.85,-0.2],[1.95,-0.25],[2.05,-0.3],[2.10,-0.38],[2.15,-0.4],[2.20,-0.45],[2.25,-0.5],[2.28,-0.55],[2.30,-0.6],[2.35,-0.7],[2.38,-0.75],[2.40,-0.8],[2.42,-1.2],[2.43,0],[2.70,0],[2.72,-0.03],[2.80,-0.05],[2.90,-0.1],[2.95,-0.3],[2.98,-0.1],[3.05,-0.05],[3.15,-0.04],[3.25,-0.05],[3.30,-0.04],[3.35,-0.05],[3.41,-0.03]];
const pBluUpR = [[-3.43,0.01],[-3.30,0.03],[-3.15,0.05],[-3.12,0.18],[-3.10,0.06],[-2.90,0.08],[-2.78,0.1],[-2.75,0.3],[-2.72,0.1],[-2.50,0.1],[-2.40,0.12],[-2.35,0.48],[-2.32,0.12],[-2.20,0.15],[-2.15,0.30],[-2.12,0.12],[-2.05,0.15],[-2.00,0.35],[-1.97,0.12],[-1.92,0.28],[-1.88,0.15],[-1.82,0.30],[-1.78,0.12],[-1.72,0.15],[-1.69,0.1],[-1.60,0.45],[-1.57,0.1],[-1.50,0.12],[-1.46,0.2],[-1.42,0.08],[-1.30,0.1],[-1.23,0.2],[-1.20,0.08],[-1.10,0.1],[-1.00,0.2],[-0.97,0.08],[-0.85,0.06],[-0.70,0.04],[-0.60,0.02],[-0.55,0],[-0.45,0.03],[-0.30,0.05],[-0.28,0.1],[-0.26,0.03],[-0.17,0.07],[-0.10,0.03],[0,0],[1.80,0],[1.81,0.05],[1.85,0.1],[1.95,0.12],[2.05,0.15],[2.15,0.17],[2.20,0.2],[2.25,0.25],[2.30,0.2],[2.38,0.28],[2.42,0.3],[2.43,0],[2.70,0],[2.71,1.2],[2.72,0.3],[2.80,0.2],[2.90,0.3],[2.95,0.45],[2.97,1.2],[3.00,0.3],[3.05,0.6],[3.10,0.8],[3.15,0.5],[3.20,0.65],[3.25,0.8],[3.30,0.6],[3.35,0.9],[3.41,0.5]];
const pBluDnR = [[-3.43,-0.01],[-3.30,-0.03],[-3.15,-0.05],[-3.12,-0.18],[-3.10,-0.06],[-2.90,-0.08],[-2.78,-0.1],[-2.75,-0.3],[-2.72,-0.1],[-2.50,-0.1],[-2.40,-0.12],[-2.35,-0.48],[-2.32,-0.12],[-2.20,-0.15],[-2.15,-0.30],[-2.12,-0.12],[-2.05,-0.15],[-2.00,-0.35],[-1.97,-0.12],[-1.92,-0.28],[-1.88,-0.15],[-1.82,-0.30],[-1.78,-0.12],[-1.72,-0.15],[-1.69,-0.1],[-1.60,-0.45],[-1.57,-0.1],[-1.50,-0.12],[-1.46,-0.2],[-1.42,-0.08],[-1.30,-0.1],[-1.23,-0.2],[-1.20,-0.08],[-1.10,-0.1],[-1.00,-0.2],[-0.97,-0.08],[-0.85,-0.06],[-0.70,-0.04],[-0.60,-0.02],[-0.55,0],[-0.45,-0.03],[-0.30,-0.05],[-0.28,-0.1],[-0.26,-0.03],[-0.17,-0.07],[-0.10,-0.03],[0,0],[1.80,0],[1.81,-0.05],[1.85,-0.1],[1.95,-0.12],[2.05,-0.15],[2.15,-0.17],[2.20,-0.2],[2.25,-0.25],[2.30,-0.2],[2.38,-0.28],[2.42,-0.3],[2.43,0],[2.70,0],[2.71,-1.2],[2.72,-0.3],[2.80,-0.2],[2.90,-0.3],[2.95,-0.45],[2.97,-1.2],[3.00,-0.3],[3.05,-0.6],[3.10,-0.8],[3.15,-0.5],[3.20,-0.65],[3.25,-0.8],[3.30,-0.6],[3.35,-0.9],[3.41,-0.5]];

// ---------- layout ----------
const R = '#e8141c', B = '#1f3cf5', G = '#2fb41c';
const FONT = '"Liberation Sans", Arial, Helvetica, sans-serif';
const XL = [-3.55, 3.7], XR = [-3.43, 3.41];
const panels = [
  {g:[53,20,301,114],  x:XL, y:[-21,21],     yt:yTicksTot, ym:4,   bottom:false, s:[[totUpL,R],[totDnL,B]]},
  {g:[53,134,301,121], x:XL, y:[-1.15,1.15], yt:yTicksMn,  ym:0.1, bottom:false, s:[[mnGrnUpL,G],[mnGrnDnL,G],[mnRedUpL,R],[mnRedDnL,R],[mnBluUpL,B],[mnBluDnL,B]]},
  {g:[53,255,301,111], x:XL, y:[-6.6,6.6],   yt:yTicksS,   ym:1,   bottom:false, s:[[sGrnUpL,G],[sGrnDnL,G],[sBluUpL,B],[sBluDnL,B],[sRedUpL,R],[sRedDnL,R]]},
  {g:[53,366,301,119], x:XL, y:[-0.92,0.92], yt:yTicksP,   ym:0.1, bottom:true,  s:[[pRedUpL,R],[pRedDnL,R],[pBluUpL,B],[pBluDnL,B]]},
  {g:[455,20,300,115], x:XR, y:[-17,17],     yt:yTicksTot, ym:4,   bottom:false, s:[[totUpR,R],[totDnR,B]]},
  {g:[455,135,300,117],x:XR, y:[-1.15,1.15], yt:yTicksMn,  ym:0.1, bottom:false, s:[[mnGrnUpR,G],[mnGrnDnR,G],[mnRedUpR,R],[mnRedDnR,R],[mnBluUpR,B],[mnBluDnR,B]]},
  {g:[455,252,300,113],x:XR, y:[-4.7,4.7],   yt:yTicksSe,  ym:1,   bottom:false, s:[[seGrnUpR,G],[seGrnDnR,G],[seBluUpR,B],[seBluDnR,B],[seRedUpR,R],[seRedDnR,R]]},
  {g:[455,365,300,120],x:XR, y:[-0.92,0.92], yt:yTicksP,   ym:0.1, bottom:true,  s:[[pRedUpR,R],[pRedDnR,R],[pBluUpR,B],[pBluDnR,B]]}
];

function ticks(lo, hi, step){
  const out = [];
  const n0 = Math.ceil(lo/step - 1e-9), n1 = Math.floor(hi/step + 1e-9);
  for (let k = n0; k <= n1; k++) out.push(+(k*step).toFixed(4));
  return out;
}

const option = {animation:false, backgroundColor:'#fff', grid:[], xAxis:[], yAxis:[], series:[], graphic:[]};
const lbl = {color:'#000', fontSize:14, fontFamily:FONT};

panels.forEach((p, i) => {
  option.grid.push({left:p.g[0], top:p.g[1], width:p.g[2], height:p.g[3], containLabel:false});
  const xMinor = ticks(p.x[0], p.x[1], 0.2), yMinor = ticks(p.y[0], p.y[1], p.ym);
  const ax = (range, pos, vals, len, line, showLabel, margin) => ({
    type:'value', gridIndex:i, min:range[0], max:range[1], position:pos,
    axisLine:{show:line, onZero:false, lineStyle:{color:'#000', width:1}},
    axisTick:{show:true, inside:true, length:len, customValues:vals, lineStyle:{color:'#000', width:1}},
    axisLabel:Object.assign({show:showLabel, customValues:vals, margin:margin||6}, lbl),
    splitLine:{show:false}, minorTick:{show:false}, minorSplitLine:{show:false}
  });
  const xi = option.xAxis.length, yi = option.yAxis.length;
  option.xAxis.push(ax(p.x,'bottom',xTicks,5,true,p.bottom,9));
  option.xAxis.push(ax(p.x,'bottom',xMinor,3,false,false));
  option.xAxis.push(ax(p.x,'top',xTicks,5,true,false));
  option.xAxis.push(ax(p.x,'top',xMinor,3,false,false));
  option.yAxis.push(ax(p.y,'left',p.yt,5,true,true,5));
  option.yAxis.push(ax(p.y,'left',yMinor,3,false,false));
  option.yAxis.push(ax(p.y,'right',p.yt,5,true,false));
  option.yAxis.push(ax(p.y,'right',yMinor,3,false,false));
  p.s.forEach((sd, k) => {
    const ser = {type:'line', xAxisIndex:xi, yAxisIndex:yi, data:sd[0], showSymbol:false, symbol:'none',
      lineStyle:{color:sd[1], width:1}, itemStyle:{color:sd[1]}, silent:true, clip:true, emphasis:{disabled:true}};
    if (k === 0) {
      ser.markLine = {silent:true, symbol:'none', label:{show:false}, animation:false,
        lineStyle:{color:'#444', width:1, type:[1.5,2]}, data:[{xAxis:0}]};
    }
    option.series.push(ser);
  });
});

// ---------- text / annotations ----------
function T(x, y, text, o) {
  o = o || {};
  return {type:'text', x:x, y:y, rotation:o.rot||0, z:100, silent:true,
    style:Object.assign({text:text, fill:o.fill||'#000', font:(o.size||13)+'px '+FONT,
      fontSize:o.size||13, fontFamily:FONT,
      align:o.align||'left', verticalAlign:o.va||'middle',
      textAlign:o.align||'left', textVerticalAlign:o.va||'middle'}, o.rich?{rich:o.rich}:{})};
}
function richSet(color, size) {
  return {
    n:{fontSize:size, fontFamily:FONT, fill:color, color:color, lineHeight:size+4},
    s:{fontSize:Math.round(size*0.7), fontFamily:FONT, fill:color, color:color, verticalAlign:'bottom', lineHeight:Math.round(size*0.7)},
    p:{fontSize:Math.round(size*0.7), fontFamily:FONT, fill:color, color:color, verticalAlign:'top', lineHeight:Math.round(size*0.7)}
  };
}
function L(x1, y, color) {
  return {type:'line', z:100, silent:true, shape:{x1:x1, y1:y, x2:x1+21, y2:y}, style:{stroke:color, lineWidth:1.2}};
}
const gr = option.graphic;
// titles
gr.push(T(201, 9, '{n|2D MnPS}{s|3}', {align:'center', size:15, rich:richSet('#000',15)}));
gr.push(T(611, 9, '{n|2D MnPSe}{s|3}', {align:'center', size:15, rich:richSet('#000',15)}));
// x axis names
gr.push(T(200, 520, '{n|E-E}{s|F}{n| (eV)}', {align:'center', size:15, rich:richSet('#000',15)}));
gr.push(T(607, 520, '{n|E-E}{s|F}{n| (eV)}', {align:'center', size:15, rich:richSet('#000',15)}));
// y axis names
gr.push(T(12, 265, '{n|Density of states (eV}{p|-1}{n|u.c.}{p|-1}{n|)}', {align:'center', size:15, rot:Math.PI/2, rich:richSet('#000',15)}));
gr.push(T(412, 265, '{n|Density of states (eV}{p|-1}{n|u.c.}{p|-1}{n|)}', {align:'center', size:15, rot:Math.PI/2, rich:richSet('#000',15)}));
// panel labels
gr.push(T(63, 34, '(a) Total', {size:13.5}));
gr.push(T(63, 155, '(b) Mn', {size:13.5}));
gr.push(T(63, 267, '(c) S', {size:13.5}));
gr.push(T(63, 385, '(d) P', {size:13.5}));
gr.push(T(465, 34, '(e) Total', {size:13.5}));
gr.push(T(465, 155, '(f) Mn', {size:13.5}));
gr.push(T(465, 267, '(g) Se', {size:13.5}));
gr.push(T(465, 385, '(h) P', {size:13.5}));
// panel (a) annotations
gr.push(T(280, 36, 'Total', {size:13.5}));
gr.push(T(220, 62, 'spin up', {fill:R, size:13.5}));
gr.push(T(220, 97, 'spin down', {fill:B, size:13.5}));
gr.push({type:'line', z:100, silent:true, shape:{x1:212, y1:67, x2:212, y2:50}, style:{stroke:R, lineWidth:1.2}});
gr.push({type:'polygon', z:100, silent:true, shape:{points:[[209.5,53],[214.5,53],[212,46]]}, style:{fill:R}});
gr.push({type:'line', z:100, silent:true, shape:{x1:212, y1:88, x2:212, y2:106}, style:{stroke:B, lineWidth:1.2}});
gr.push({type:'polygon', z:100, silent:true, shape:{points:[[209.5,104],[214.5,104],[212,111]]}, style:{fill:B}});
// legend (b)
gr.push(L(241, 150, R)); gr.push(T(266, 150, '{n|d}{s|xz}{n|+d}{s|yz}', {rich:richSet(R,14), size:14}));
gr.push(L(241, 172, B)); gr.push(T(266, 172, '{n|d}{s|xy}{n|+d}{s|x²-y²}', {rich:richSet(B,14), size:14}));
gr.push(L(241, 217, G)); gr.push(T(266, 217, '{n|d}{s|z²}', {rich:richSet(G,14), size:14}));
// legend (c)
gr.push(L(241, 270, R)); gr.push(T(265, 270, '{n|p}{s|x}', {rich:richSet(R,14), size:14}));
gr.push(L(241, 289, B)); gr.push(T(265, 289, '{n|p}{s|y}', {rich:richSet(B,14), size:14}));
gr.push(L(241, 304, G)); gr.push(T(265, 304, '{n|p}{s|z}', {rich:richSet(G,14), size:14}));
// legend (d)
gr.push(L(241, 385, R)); gr.push(T(265, 384, 's', {fill:R, size:14}));
gr.push(L(241, 401, B)); gr.push(T(265, 400, 'p', {fill:B, size:14}));
// frame artefact around panel (h)
gr.push({type:'rect', z:90, silent:true, shape:{x:462, y:365, width:301, height:121}, style:{fill:'none', stroke:'#000', lineWidth:1.5}});

const chart = echarts.init(document.getElementById('c'), null, {renderer:'canvas'});
chart.setOption(option);
</script>
</body></html>
